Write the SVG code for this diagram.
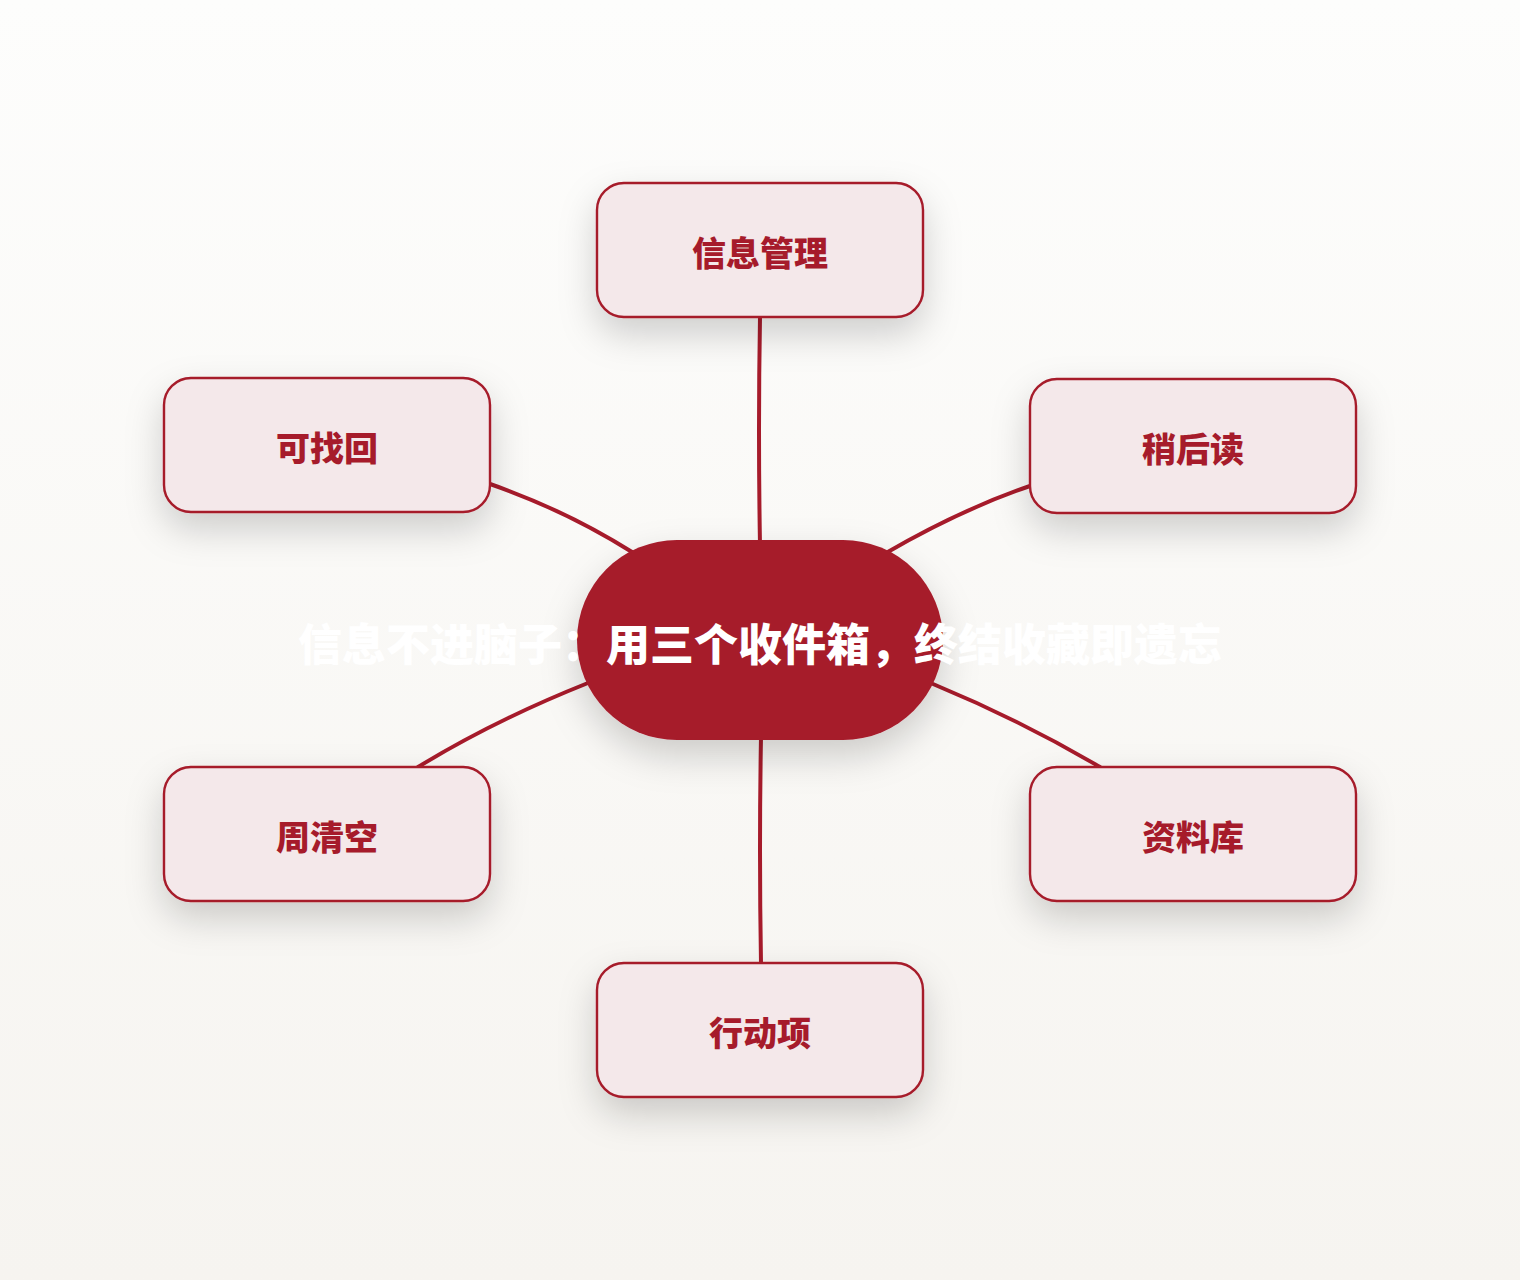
<svg xmlns="http://www.w3.org/2000/svg" width="1520" height="1280" viewBox="0 0 1520 1280">
<defs>
<linearGradient id="bg" x1="0" y1="0" x2="0" y2="1">
<stop offset="0" stop-color="#fdfdfc"/>
<stop offset="1" stop-color="#f6f4f0"/>
</linearGradient>
<filter id="sh" x="-40%" y="-40%" width="180%" height="200%">
<feDropShadow dx="0" dy="16" stdDeviation="18" flood-color="#000" flood-opacity="0.18"/>
</filter>
</defs>
<style>
.node rect{fill:#f4e8ea;stroke:#a61b2b;stroke-width:2.4;filter:url(#sh)}
.node text{font-family:"Noto Sans CJK SC","Noto Sans",sans-serif;font-weight:900;font-size:34px;fill:#a61b2b;text-anchor:middle;dominant-baseline:central}
.edge{fill:none;stroke:#a61b2b;stroke-width:4;stroke-linecap:round}
#center rect{fill:#a61b2b;filter:url(#sh)}
#center text{font-family:"Noto Sans CJK SC","Noto Sans",sans-serif;font-weight:900;font-size:44px;fill:#ffffff;text-anchor:middle;dominant-baseline:central}
</style>
<rect x="0" y="0" width="1520" height="1280" fill="url(#bg)"/>
<g id="connectors">
<path class="edge" d="M760,317 Q758,430 760,545"/>
<path class="edge" d="M490,484 Q565,510 632,552"/>
<path class="edge" d="M1030,486 Q960,510 886,553"/>
<path class="edge" d="M418,767 Q495,720 588,683"/>
<path class="edge" d="M933,684 Q1020,720 1100,767"/>
<path class="edge" d="M761,737 Q759,850 761,963"/>
</g>
<g id="n-top" class="node"><rect x="597" y="183" width="326" height="134" rx="27"/><text x="760" y="251">信息管理</text></g>
<g id="n-tl" class="node"><rect x="164" y="378" width="326" height="134" rx="27"/><text x="327" y="446">可找回</text></g>
<g id="n-tr" class="node"><rect x="1030" y="379" width="326" height="134" rx="27"/><text x="1193" y="447">稍后读</text></g>
<g id="n-bl" class="node"><rect x="164" y="767" width="326" height="134" rx="27"/><text x="327" y="835">周清空</text></g>
<g id="n-br" class="node"><rect x="1030" y="767" width="326" height="134" rx="27"/><text x="1193" y="835">资料库</text></g>
<g id="n-bottom" class="node"><rect x="597" y="963" width="326" height="134" rx="27"/><text x="760" y="1031">行动项</text></g>
<g id="center"><rect x="577" y="540" width="366" height="200" rx="100"/><text x="760" y="642">信息不进脑子：用三个收件箱，终结收藏即遗忘</text></g>
</svg>
